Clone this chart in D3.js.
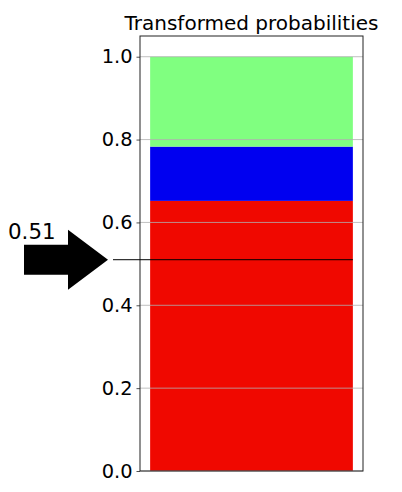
<!DOCTYPE html>
<html>
<head>
<meta charset="utf-8">
<script src="https://cdn.jsdelivr.net/npm/d3@7"></script>
<style>
  body { margin: 0; background: #fff; }
  text { font-family: "DejaVu Sans", sans-serif; }
</style>
</head>
<body>
<script>
// chart data
var segments = ["red", "blue", "green"];
var segmentValues = [0.652, 0.131, 0.217];
var segmentColors = ["#f00800", "#0000f0", "#80ff80"];
var yTicks = [0, 0.2, 0.4, 0.6, 0.8, 1.0];
var marker = [0.51];
var title = "Transformed probabilities";

var w = 402;
var h = 492;
var margin = { top: 36, right: 39, bottom: 21, left: 140 };

var svg = d3.select("body").append("svg").attr("width", w).attr("height", h);

var y = d3
  .scaleLinear()
  .domain([0, 1.05])
  .range([h - margin.bottom, margin.top]);

var x = d3
  .scaleLinear()
  .domain([-0.44, 0.44])
  .range([margin.left, w - margin.right]);

//stack the segments on top of each other
var stacked = [];
var acc = 0;
segmentValues.forEach(function (v, i) {
  stacked.push({ name: segments[i], y0: acc, y1: acc + v, color: segmentColors[i] });
  acc += v;
});

svg
  .selectAll(".seg")
  .data(stacked)
  .enter()
  .append("rect")
  .attr("class", "seg")
  .attr("x", x(-0.4))
  .attr("width", x(0.4) - x(-0.4))
  .attr("y", function (d) { return y(d.y1); })
  .attr("height", function (d) { return y(d.y0) - y(d.y1); })
  .style("fill", function (d) { return d.color; });

//grid on top of the bar
svg
  .selectAll(".grid")
  .data(yTicks)
  .enter()
  .append("line")
  .attr("class", "grid")
  .attr("x1", margin.left)
  .attr("x2", w - margin.right)
  .attr("y1", function (d) { return y(d); })
  .attr("y2", function (d) { return y(d); })
  .style("stroke", "#b0b0b0")
  .style("stroke-width", 0.8);

//y axis
var yAxis = d3
  .axisLeft(y)
  .tickValues(yTicks)
  .tickFormat(d3.format(".1f"))
  .tickSize(3.5)
  .tickPadding(4);

var gy = svg
  .append("g")
  .attr("transform", "translate(" + margin.left + ",0)")
  .call(yAxis);
gy.select(".domain").remove();
gy.selectAll("line").style("stroke", "#222").style("stroke-width", 0.8);
gy.selectAll("text")
  .style("font-size", "19.4px")
  .style("fill", "#000")
  .style("font-family", "DejaVu Sans, sans-serif");

//frame
svg
  .append("rect")
  .attr("x", margin.left)
  .attr("y", margin.top)
  .attr("width", w - margin.left - margin.right)
  .attr("height", h - margin.top - margin.bottom)
  .style("fill", "none")
  .style("stroke", "#222")
  .style("stroke-width", 1);

//marker line and arrow
var my = y(marker[0]);
svg
  .append("line")
  .attr("x1", 113)
  .attr("x2", x(0.4))
  .attr("y1", my)
  .attr("y2", my)
  .style("stroke", "#000")
  .style("stroke-width", 1);

var arrow = [
  [24, my - 15],
  [68, my - 15],
  [68, my - 30],
  [108, my],
  [68, my + 30],
  [68, my + 15],
  [24, my + 15]
];
svg
  .append("polygon")
  .attr("points", arrow.map(function (p) { return p.join(","); }).join(" "))
  .style("fill", "#000");

svg
  .append("text")
  .attr("x", 8)
  .attr("y", my - 21)
  .style("font-size", "21.4px")
  .text(d3.format(".2f")(marker[0]));

//title
svg
  .append("text")
  .attr("x", (margin.left + w - margin.right) / 2)
  .attr("y", 30)
  .attr("text-anchor", "middle")
  .style("font-size", "20px")
  .text(title);
</script>
</body>
</html>
